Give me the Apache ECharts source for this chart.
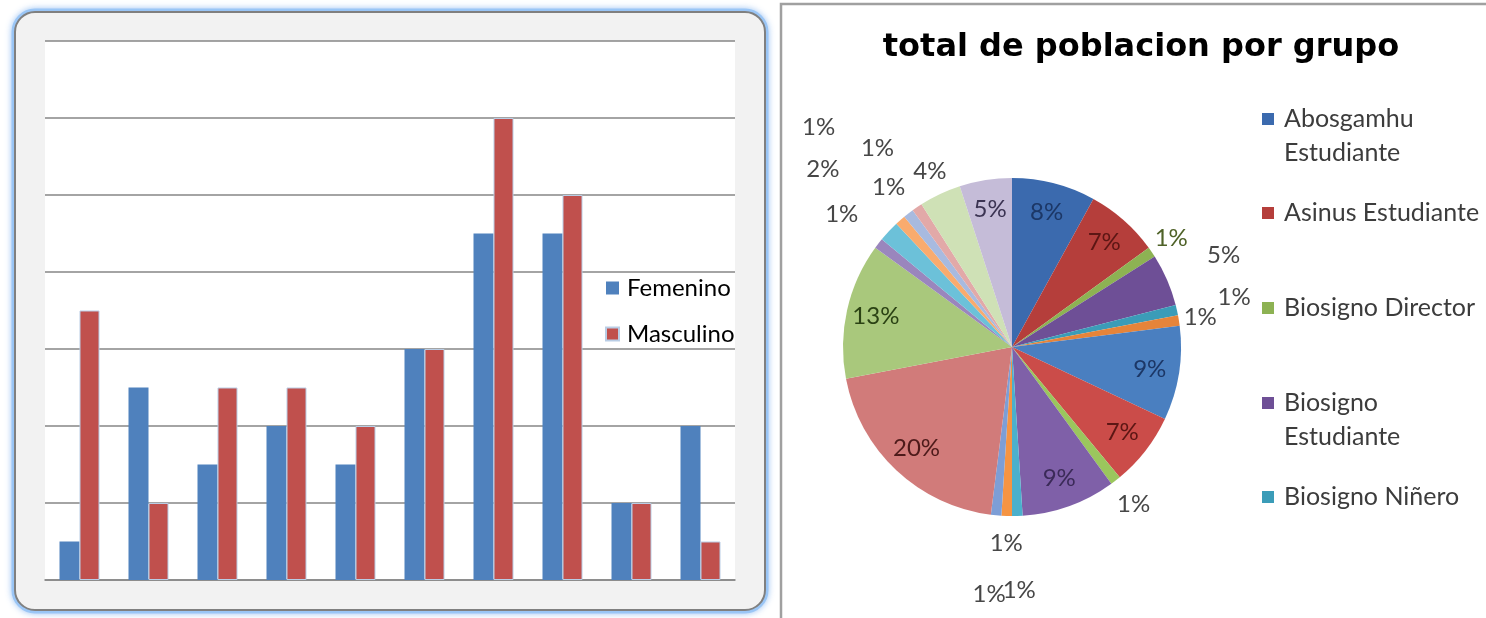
<!DOCTYPE html>
<html>
<head>
<meta charset="utf-8">
<script src="https://cdn.jsdelivr.net/npm/echarts@6/dist/echarts.min.js"></script>
<style>
  html, body { margin: 0; padding: 0; background: #ffffff; }
  #chart { width: 1486px; height: 618px; }
</style>
</head>
<body>
<div id="chart"></div>
<script>
// ---- Bar chart: people per group, by sex ----
const barCategories = ['1', '2', '3', '4', '5', '6', '7', '8', '9', '10'];
const femenino  = [1, 5, 3, 4, 3, 6, 9, 9, 2, 4];
const masculino = [7, 2, 5, 5, 4, 6, 12, 10, 2, 1];
const yMin = 0, yMax = 14, yStep = 2;

// ---- Pie chart: total population per group (percent) ----
const legendGroups = ['Abosgamhu Estudiante', 'Asinus Estudiante', 'Biosigno Director',
                      'Biosigno Estudiante', 'Biosigno Niñero'];
const porcentajes = [8, 7, 1, 5, 1, 1, 9, 7, 1, 9, 1, 1, 1, 20, 13, 1, 2, 1, 1, 1, 4, 5];
const grupos = porcentajes.map((_, i) => legendGroups[i] || ('Grupo ' + (i + 1)));

// slice palette, label colours and label placement (0 = inside the slice,
// otherwise the distance in px the label sits outside the rim)
const sliceColors = ['#3b6aae', '#b53e3b', '#8db253', '#6e4f96', '#3b9cb8', '#e6843a',
                     '#4a7fc0', '#cb4c49', '#9bc65d', '#7f60a8', '#4bb0cc', '#f59443',
                     '#7d9ed6', '#d17b7a', '#a9c87c', '#9a86bd', '#6cc1d9', '#f9ab6e',
                     '#a8badf', '#e2a9a8', '#cfe1b6', '#c5bcd8'];
const labelReach = [0, 0, 24, 62, 59, 22, 0, 0, 30, 0, 74, 27, 79, 0, 0, 47, 91, 124, 33, 71, 25, 0];
const insideLabelColors = {0: '#1c3766', 1: '#5c1614', 6: '#1c3766', 7: '#5c1614',
                           9: '#3b2a58', 13: '#4d1a1a', 14: '#2b4214', 21: '#3b3352'};
const outsideLabelColor = '#474747';

const PIE_CENTER = [1012, 347];
const PIE_R = 169;
const LABEL_FONT = 24;

const chart = echarts.init(document.getElementById('chart'), null,
  { renderer: 'canvas', width: 1486, height: 618 });

const pieBase = porcentajes.map((v, i) => ({
  name: grupos[i], value: v, itemStyle: { color: sliceColors[i] }
}));

const pieLabels = porcentajes.map((v, i) => {
  const inside = labelReach[i] === 0;
  return {
    name: grupos[i],
    value: v,
    itemStyle: { color: 'rgba(0,0,0,0)' },
    label: {
      position: inside ? 'inside' : 'outside',
      color: inside ? insideLabelColors[i] : (i === 2 ? '#4f6228' : outsideLabelColor)
    },
    labelLine: { show: false, length: inside ? 10 : labelReach[i], length2: 0 }
  };
});

// one legend block per pie group, icon lined up with the first text line
const PIE_LEGEND_LINE = 34;
const pieLegendCenters = [119, 213, 308, 403, 497];
const pieLegends = legendGroups.map((name, i) => {
  const twoLine = name.length > 18;
  return {
    data: [name],
    orient: 'vertical',
    left: 1262,
    top: pieLegendCenters[i] - (twoLine ? 1.5 : 0.5) * PIE_LEGEND_LINE,
    padding: 0,
    icon: 'rect',
    itemWidth: 12,
    itemHeight: 12,
    selectedMode: false,
    // an empty leading line keeps the first text line level with the icon
    formatter: n => twoLine ? '\n' + n.replace(' ', '\n') : n,
    textStyle: {
      fontFamily: 'Lato', fontSize: 25, color: '#3c3c3c',
      lineHeight: PIE_LEGEND_LINE,
      padding: [0, 0, 0, 5]
    }
  };
});

const option = {
  animation: false,
  backgroundColor: '#ffffff',
  graphic: [
    {
      // soft blue halo around the bar-chart frame
      type: 'rect', z: -11,
      shape: { x: 15, y: 12, width: 750, height: 598, r: 20 },
      style: { fill: null, stroke: 'rgba(150,195,245,0.9)', lineWidth: 7,
               shadowBlur: 6, shadowColor: 'rgba(130,180,240,0.9)' }
    },
    {
      type: 'rect', z: -10,
      shape: { x: 15, y: 12, width: 750, height: 598, r: 20 },
      style: { fill: '#f2f2f2', stroke: '#808080', lineWidth: 2 }
    },
    {
      type: 'polyline', z: -10,
      shape: { points: [[781, 618], [781, 4], [1486, 4]] },
      style: { stroke: '#a0a0a0', lineWidth: 2.5, fill: null }
    },
    {
      type: 'text', x: 1141, y: 48,
      style: {
        text: 'total de poblacion por grupo',
        fontFamily: 'DejaVu Sans', fontWeight: 'bold', fontSize: 32, fill: '#000000',
        align: 'center', verticalAlign: 'middle',
        textAlign: 'center', textVerticalAlign: 'middle'
      }
    }
  ],
  grid: {
    left: 45, right: 751, top: 41, bottom: 38,
    show: true, backgroundColor: '#ffffff', borderWidth: 0
  },
  xAxis: {
    type: 'category',
    data: barCategories,
    axisLine: { show: true, lineStyle: { color: '#868686', width: 1.6 } },
    axisTick: { show: false },
    axisLabel: { show: false },
    splitLine: { show: false }
  },
  yAxis: {
    type: 'value',
    min: yMin, max: yMax, interval: yStep,
    axisLine: { show: false },
    axisTick: { show: false },
    axisLabel: { show: false },
    splitLine: { show: true, lineStyle: { color: '#868686', width: 1.6 } }
  },
  legend: [
    {
      data: ['Femenino', 'Masculino'],
      orient: 'vertical',
      left: 605, top: 275,
      padding: 0,
      icon: 'rect',
      itemWidth: 13, itemHeight: 13,
      itemGap: 20,
      selectedMode: false,
      textStyle: { fontFamily: 'Lato', fontSize: 24, lineHeight: 26, color: '#000000',
                   padding: [0, 0, 0, 3] }
    }
  ].concat(pieLegends),
  series: [
    {
      type: 'bar', name: 'Femenino', data: femenino,
      barWidth: 20, barGap: '0%',
      itemStyle: { color: '#4f81bd' }
    },
    {
      type: 'bar', name: 'Masculino', data: masculino,
      barWidth: 20, barGap: '0%',
      itemStyle: { color: '#c0504d', borderColor: '#b9cde5', borderWidth: 1 }
    },
    {
      type: 'pie',
      center: PIE_CENTER,
      radius: [0, PIE_R],
      startAngle: 90, clockwise: true,
      silent: true,
      data: pieBase,
      label: { show: false },
      labelLine: { show: false },
      itemStyle: { borderWidth: 0 }
    },
    {
      // transparent ring carrying the percentage labels
      type: 'pie',
      center: PIE_CENTER,
      radius: [104, PIE_R],
      startAngle: 90, clockwise: true,
      silent: true,
      data: pieLabels,
      avoidLabelOverlap: false,
      labelLayout: { hideOverlap: false, moveOverlap: null },
      label: {
        show: true,
        formatter: '{c}%',
        fontFamily: 'Lato', fontSize: LABEL_FONT, lineHeight: 22,
        // centre each outside label on the end of its (hidden) leader
        distanceToLabelLine: -17
      },
      labelLine: { show: false },
      itemStyle: { borderWidth: 0 }
    }
  ]
};

chart.setOption(option);
</script>
</body>
</html>
